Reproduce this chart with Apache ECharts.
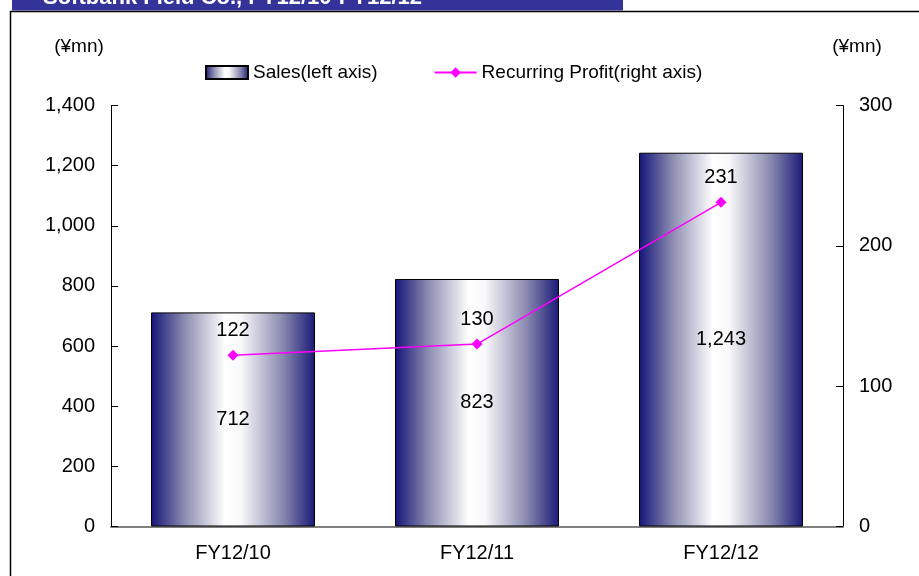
<!DOCTYPE html>
<html>
<head>
<meta charset="utf-8">
<script src="https://cdn.jsdelivr.net/npm/echarts@6/dist/echarts.min.js"></script>
<style>html,body{margin:0;padding:0;background:#fff;}#c{width:919px;height:576px;}</style>
</head>
<body>
<div id="c"></div>
<script>
var categories = ['FY12/10', 'FY12/11', 'FY12/12'];
var salesValues = [712, 823, 1243];
var profitValues = [122, 130, 231];
var leftTicks = {min: 0, max: 1400, interval: 200};
var rightTicks = {min: 0, max: 300, interval: 100};
var seriesNames = ['Sales(left axis)', 'Recurring Profit(right axis)'];
var unitLabel = '(¥mn)';
var headerTitle = 'Softbank Field Co., FY12/10-FY12/12';

var FONT = "'Liberation Sans', Arial, sans-serif";
var chart = echarts.init(document.getElementById('c'));
var barGrad = new echarts.graphic.LinearGradient(0, 0, 1, 0, [
  {offset: 0, color: '#141478'},
  {offset: 0.2, color: '#8a8ab0'},
  {offset: 0.45, color: '#ffffff'},
  {offset: 0.55, color: '#f8f8fa'},
  {offset: 0.8, color: '#8a8ab0'},
  {offset: 1, color: '#1a1a78'}
]);
chart.setOption({
  animation: false,
  textStyle: {fontFamily: FONT},
  graphic: [
    {type: 'rect', shape: {x: 12, y: 0, width: 611, height: 10.5}, style: {fill: '#333399'}, z: 10},
    {type: 'text', x: 43, y: 8.5, style: {text: headerTitle, fill: '#ffffff', font: 'bold 22px ' + FONT, textVerticalAlign: 'bottom'}, z: 11},
    {type: 'polyline', shape: {points: [[10.5, 576], [10.5, 11.5], [919, 11.5]]}, style: {stroke: '#000', lineWidth: 1.5, fill: null}, z: 9},
    {type: 'text', x: 79, y: 47, style: {text: unitLabel, fill: '#000', font: '19px ' + FONT, textAlign: 'center', textVerticalAlign: 'middle'}},
    {type: 'text', x: 857, y: 47, style: {text: unitLabel, fill: '#000', font: '19px ' + FONT, textAlign: 'center', textVerticalAlign: 'middle'}}
  ],
  legend: {
    left: 200, top: 58, itemGap: 56, itemWidth: 42, itemHeight: 13,
    textStyle: {fontSize: 19, color: '#000', fontFamily: FONT},
    data: [{name: seriesNames[0], icon: 'rect'}, {name: seriesNames[1]}]
  },
  grid: {left: 111, right: 76, top: 105.5, bottom: 49.5, containLabel: false},
  xAxis: {
    type: 'category', data: categories,
    axisLine: {lineStyle: {color: '#808080', width: 2}},
    axisTick: {inside: true, length: 7, lineStyle: {color: '#000'}},
    axisLabel: {fontSize: 20, color: '#000', margin: 17, fontFamily: FONT}
  },
  yAxis: [
    {type: 'value', min: leftTicks.min, max: leftTicks.max, interval: leftTicks.interval,
     axisLine: {show: true, lineStyle: {color: '#000', width: 1}},
     axisTick: {show: true, inside: true, length: 7, lineStyle: {color: '#000'}},
     splitLine: {show: false},
     axisLabel: {fontSize: 20, color: '#000', margin: 16, fontFamily: FONT,
       formatter: function (v) { return v.toLocaleString('en-US'); }}},
    {type: 'value', min: rightTicks.min, max: rightTicks.max, interval: rightTicks.interval, position: 'right',
     axisLine: {show: true, lineStyle: {color: '#000', width: 1}},
     axisTick: {show: true, inside: true, length: 7, lineStyle: {color: '#000'}},
     splitLine: {show: false},
     axisLabel: {fontSize: 20, color: '#000', margin: 16, fontFamily: FONT}}
  ],
  series: [
    {name: seriesNames[0], type: 'bar', yAxisIndex: 0, data: salesValues, barWidth: 164,
     itemStyle: {color: barGrad, borderColor: '#000', borderWidth: 1},
     label: {show: true, position: 'inside', fontSize: 20, color: '#000', fontFamily: FONT,
       formatter: function (p) { return p.value.toLocaleString('en-US'); }}},
    {name: seriesNames[1], type: 'line', yAxisIndex: 1, data: profitValues,
     symbol: 'diamond', symbolSize: 11, lineStyle: {color: '#ff00ff', width: 1.5},
     itemStyle: {color: '#ff00ff'},
     label: {show: true, position: 'top', distance: 9, fontSize: 20, color: '#000', fontFamily: FONT}}
  ]
});
</script>
</body>
</html>
